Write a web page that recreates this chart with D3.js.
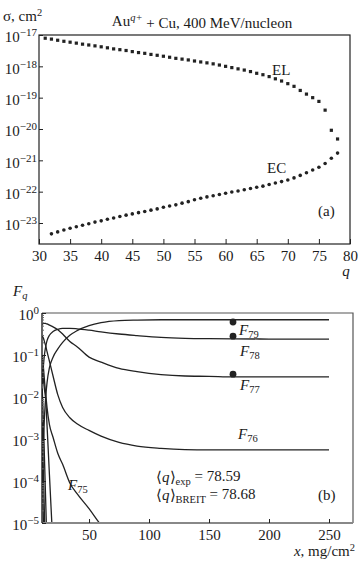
<!DOCTYPE html>
<html>
<head>
<meta charset="utf-8">
<script src="https://cdn.jsdelivr.net/npm/d3@7"></script>
<style>
  body { margin: 0; background: #fff; }
  svg { display: block; }
  text { font-family: "Liberation Serif", "Times New Roman", serif; fill: #1a1a1a; }
</style>
</head>
<body>
<script>
// ---- panel (a): cross sections vs q ----
const elQ = d3.range(31, 79);
const elSigma = [7.9e-18, 7.4e-18, 6.8e-18, 6.3e-18, 5.9e-18, 5.5e-18, 5.1e-18, 4.8e-18, 4.5e-18, 4.2e-18,
  3.9e-18, 3.6e-18, 3.4e-18, 3.2e-18, 2.95e-18, 2.75e-18, 2.6e-18, 2.4e-18, 2.25e-18, 2.1e-18,
  1.95e-18, 1.8e-18, 1.7e-18, 1.6e-18, 1.48e-18, 1.38e-18, 1.29e-18, 1.2e-18, 1.1e-18, 1.0e-18,
  9.1e-19, 8.3e-19, 7.6e-19, 6.8e-19, 6.0e-19, 5.4e-19, 4.7e-19, 4.0e-19, 3.4e-19, 2.8e-19,
  2.3e-19, 1.7e-19, 1.3e-19, 1.0e-19, 7.6e-20, 4.0e-20, 9.1e-21, 4.8e-21];
const ecQ = d3.range(32, 79);
const ecSigma = [4.5e-24, 5.2e-24, 6.0e-24, 6.8e-24, 7.6e-24, 8.5e-24, 9.5e-24, 1.07e-23, 1.17e-23, 1.32e-23,
  1.45e-23, 1.62e-23, 1.78e-23, 1.95e-23, 2.14e-23, 2.34e-23, 2.57e-23, 2.82e-23, 3.2e-23, 3.5e-23,
  3.8e-23, 4.3e-23, 4.8e-23, 5.5e-23, 6.2e-23, 6.8e-23, 7.4e-23, 8.1e-23, 8.9e-23, 9.8e-23,
  1.05e-22, 1.15e-22, 1.26e-22, 1.38e-22, 1.5e-22, 1.7e-22, 1.9e-22, 2.1e-22, 2.35e-22, 2.75e-22,
  3.3e-22, 4.0e-22, 4.9e-22, 6.0e-22, 7.9e-22, 1.17e-21, 1.7e-21];
const qTicks = [30, 35, 40, 45, 50, 55, 60, 65, 70, 75, 80];
const sigmaExp = [-17, -18, -19, -20, -21, -22, -23];

// ---- panel (b): charge state fractions vs thickness ----
const xGrid = [11, 12, 13, 14, 15, 17, 20, 24, 28, 34, 40, 50, 60, 75, 90, 110, 130, 150, 170, 200, 250];
const f79 = [2.5e-4, 1e-3, 4e-3, 0.011, 0.022, 0.05, 0.089, 0.14, 0.2, 0.295, 0.38, 0.5, 0.59, 0.66, 0.68, 0.69, 0.69, 0.69, 0.69, 0.69, 0.69];
const f78 = [0.02, 0.056, 0.11, 0.166, 0.22, 0.295, 0.363, 0.41, 0.43, 0.43, 0.42, 0.39, 0.355, 0.316, 0.29, 0.263, 0.25, 0.245, 0.243, 0.24, 0.24];
const f77 = [0.537, 0.562, 0.569, 0.562, 0.55, 0.513, 0.468, 0.398, 0.316, 0.209, 0.158, 0.089, 0.068, 0.048, 0.04, 0.034, 0.0316, 0.031, 0.030, 0.030, 0.030];
const f76 = [0.28, 0.25, 0.2, 0.16, 0.12, 0.071, 0.0316, 0.0112, 5.6e-3, 3.2e-3, 2.3e-3, 1.6e-3, 1.17e-3, 8.3e-4, 6.8e-4, 6.0e-4, 5.6e-4, 5.5e-4, 5.5e-4, 5.5e-4, 5.5e-4];
const f75 = [0.1, 0.05, 0.022, 0.011, 5.6e-3, 2.2e-3, 1.1e-3, 4.5e-4, 2.5e-4, 9e-5, 5e-5, 2.2e-5, 9e-6, 4e-6, null, null, null, null, null, null, null];
const f74 = [0.05, 0.025, 0.014, 8e-3, 2.1e-3, 1.4e-4, 2.6e-6, null, null, null, null, null, null, null, null, null, null, null, null, null, null];
const f73 = [0.016, 2.5e-3, 2.5e-4, 2.5e-5, 2.5e-6, null, null, null, null, null, null, null, null, null, null, null, null, null, null, null, null];
const f72 = [2.5e-3, 1.6e-4, 1e-5, 6e-7, null, null, null, null, null, null, null, null, null, null, null, null, null, null, null, null, null];
const f71 = [3e-4, 1e-5, 3e-7, null, null, null, null, null, null, null, null, null, null, null, null, null, null, null, null, null, null];
const expX = [170, 170, 170];
const expF = [0.61, 0.28, 0.035];
const xTicks = [50, 100, 150, 200, 250];
const fExp = [0, -1, -2, -3, -4, -5];

const W = 358, H = 564;
const svg = d3.select("body").append("svg").attr("width", W).attr("height", H);
const ink = "#222";

function powLabel(sel, exp, size) {
  sel.text(null);
  sel.append("tspan").text("10");
  sel.append("tspan").attr("dy", "-0.55em").attr("font-size", size).text(exp === 0 ? "0" : "\u2212" + Math.abs(exp));
}

// ===== panel (a) =====
const a = { left: 39, right: 350, top: 35, bottom: 244 };
const xA = d3.scaleLinear().domain([30, 80]).range([a.left, a.right]);
const yA = d3.scaleLog().domain([Math.pow(10, -23.67), 1e-17]).range([a.bottom, a.top]);

const gA = svg.append("g");
gA.append("rect").attr("x", a.left).attr("y", a.top).attr("width", a.right - a.left).attr("height", a.bottom - a.top)
  .attr("fill", "none").attr("stroke", ink).attr("stroke-width", 1.2);

const axA = gA.append("g").attr("transform", `translate(0,${a.bottom})`)
  .call(d3.axisBottom(xA).tickValues(qTicks).tickSize(-5).tickPadding(6).tickFormat(d3.format("d")));
axA.select(".domain").remove();
axA.selectAll("line").attr("stroke", ink);
axA.selectAll("text").attr("font-size", 15).attr("fill", ink);

const ayA = gA.append("g").attr("transform", `translate(${a.left},0)`)
  .call(d3.axisLeft(yA).tickValues(sigmaExp.map(e => Math.pow(10, e))).tickSize(-4).tickPadding(2));
ayA.select(".domain").remove();
ayA.selectAll("line").attr("stroke", ink);
ayA.selectAll("text").attr("font-size", 15).attr("fill", ink).attr("dy", "0.45em")
  .each(function (d, i) { powLabel(d3.select(this), sigmaExp[i], 11); });

gA.selectAll("rect.el").data(elQ).join("rect").attr("class", "el")
  .attr("x", (d) => xA(d) - 1.6).attr("y", (d, i) => yA(elSigma[i]) - 1.6)
  .attr("width", 3.2).attr("height", 3.2).attr("fill", ink);
gA.selectAll("circle.ec").data(ecQ).join("circle").attr("class", "ec")
  .attr("cx", (d) => xA(d)).attr("cy", (d, i) => yA(ecSigma[i])).attr("r", 1.8).attr("fill", ink);

const title = svg.append("text").attr("x", 202).attr("y", 26).attr("text-anchor", "middle").attr("font-size", 15);
title.append("tspan").text("Au");
title.append("tspan").attr("dy", "-0.45em").attr("font-size", 10.5).attr("font-style", "italic").text("q+");
title.append("tspan").attr("dy", "0.45em").text(" + Cu, 400 MeV/nucleon");

const sig = svg.append("text").attr("x", 3).attr("y", 21).attr("font-size", 15);
sig.append("tspan").text("\u03c3, cm");
sig.append("tspan").attr("dy", "-0.45em").attr("font-size", 10.5).text("2");

svg.append("text").attr("x", 346).attr("y", 276).attr("font-size", 15).attr("font-style", "italic").attr("text-anchor", "middle").text("q");
svg.append("text").attr("x", 272).attr("y", 75).attr("font-size", 15).text("EL");
svg.append("text").attr("x", 267).attr("y", 173).attr("font-size", 15).text("EC");
svg.append("text").attr("x", 318).attr("y", 216).attr("font-size", 15).text("(a)");

// ===== panel (b) =====
const b = { left: 42, right: 353, top: 313, bottom: 523 };
const xB = d3.scaleLinear().domain([10.8, 270]).range([b.left, b.right]);
const yB = d3.scaleLog().domain([1e-5, 1]).range([b.bottom, b.top]);

const gB = svg.append("g");
svg.append("clipPath").attr("id", "clipB").append("rect")
  .attr("x", b.left).attr("y", b.top).attr("width", b.right - b.left).attr("height", b.bottom - b.top);

gB.append("path").attr("d", `M${b.left},${b.top}H${b.right}V${b.bottom}`).attr("fill", "none")
  .attr("stroke", "#555").attr("stroke-width", 1.2);

const series = [f79, f78, f77, f76, f75, f74, f73, f72, f71];
const line = d3.line().defined((d) => d[1] != null)
  .x((d) => xB(d[0])).y((d) => yB(d[1])).curve(d3.curveMonotoneX);
gB.append("g").attr("clip-path", "url(#clipB)").selectAll("path").data(series).join("path")
  .attr("d", (s) => line(xGrid.map((x, i) => [x, s[i]])))
  .attr("fill", "none").attr("stroke", ink).attr("stroke-width", 1.3);

gB.selectAll("circle.exp").data(expX).join("circle").attr("class", "exp")
  .attr("cx", (d) => xB(d)).attr("cy", (d, i) => yB(expF[i])).attr("r", 3.4).attr("fill", ink);

// bottom and left axes
gB.append("line").attr("x1", b.left).attr("x2", b.right).attr("y1", b.bottom).attr("y2", b.bottom)
  .attr("stroke", "#888").attr("stroke-width", 2);
gB.append("line").attr("x1", b.left).attr("x2", b.left).attr("y1", b.top).attr("y2", b.bottom)
  .attr("stroke", ink).attr("stroke-width", 1.4);

const axB = gB.append("g").attr("transform", `translate(0,${b.bottom})`)
  .call(d3.axisBottom(xB).tickValues(xTicks).tickSize(-4).tickPadding(6).tickFormat(d3.format("d")));
axB.select(".domain").remove();
axB.selectAll("line").attr("stroke", ink);
axB.selectAll("text").attr("font-size", 15).attr("fill", ink);

const minorF = [];
fExp.slice(1).forEach((e) => { for (let k = 2; k < 10; k++) minorF.push(k * Math.pow(10, e)); });
gB.append("g").attr("transform", `translate(${b.left},0)`)
  .call(d3.axisLeft(yB).tickValues(minorF).tickSize(-2).tickFormat(""))
  .call((g) => g.select(".domain").remove())
  .selectAll("line").attr("stroke", "#666");

const ayB = gB.append("g").attr("transform", `translate(${b.left},0)`)
  .call(d3.axisLeft(yB).tickValues(fExp.map(e => Math.pow(10, e))).tickSize(-4).tickPadding(3));
ayB.select(".domain").remove();
ayB.selectAll("line").attr("stroke", ink);
ayB.selectAll("text").attr("font-size", 15).attr("fill", ink).attr("dy", "0.45em")
  .each(function (d, i) { powLabel(d3.select(this), fExp[i], 11); });

function fLabel(x, y, sub) {
  const t = svg.append("text").attr("x", x).attr("y", y).attr("font-size", 15);
  t.append("tspan").attr("font-style", "italic").text("F");
  t.append("tspan").attr("dy", "0.3em").attr("font-size", 10.5).text(sub);
  return t;
}
fLabel(13, 296, "q").select("tspan:last-child").attr("font-style", "italic");
fLabel(239, 335, "79");
fLabel(240, 356, "78");
fLabel(240, 390, "77");
fLabel(238, 439, "76");
fLabel(68, 490, "75");

function qLabel(x, y, sub, val) {
  const t = svg.append("text").attr("x", x).attr("y", y).attr("font-size", 15);
  t.append("tspan").text("\u27e8");
  t.append("tspan").attr("font-style", "italic").text("q");
  t.append("tspan").text("\u27e9");
  t.append("tspan").attr("dy", "0.3em").attr("font-size", 10.5).text(sub);
  t.append("tspan").attr("dy", "-0.3em").text(" = " + val);
}
qLabel(156, 482, "exp", "78.59");
qLabel(156, 500, "BREIT", "78.68");
svg.append("text").attr("x", 318).attr("y", 500).attr("font-size", 15).text("(b)");

const xl = svg.append("text").attr("x", 355).attr("y", 556).attr("text-anchor", "end").attr("font-size", 15);
xl.append("tspan").attr("font-style", "italic").text("x");
xl.append("tspan").text(", mg/cm");
xl.append("tspan").attr("dy", "-0.45em").attr("font-size", 10.5).text("2");
</script>
</body>
</html>
